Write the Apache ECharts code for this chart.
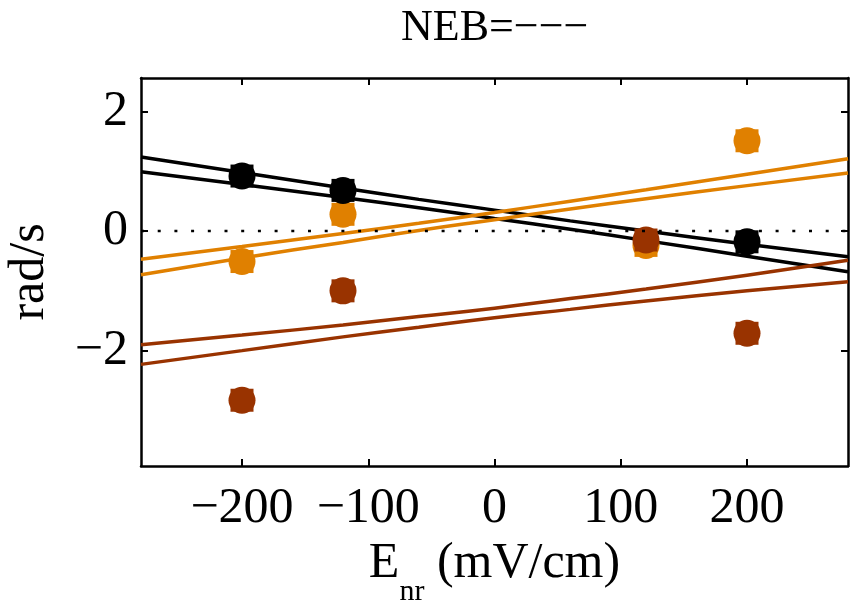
<!DOCTYPE html>
<html>
<head>
<meta charset="utf-8">
<script src="https://cdn.jsdelivr.net/npm/echarts@6/dist/echarts.min.js"></script>
<style>
  html, body { margin: 0; padding: 0; background: #fff; }
  #myChart { width: 854px; height: 606px; }
</style>
</head>
<body>
<div id="myChart"></div>
<script>
// measured points (E field in mV/cm, rate in rad/s)
const blackX = [-200, -120, 200];
const blackY = [0.92, 0.68, -0.18];
const orangeX = [-200, -120, 120, 200];
const orangeY = [-0.51, 0.28, -0.24, 1.51];
const brownX = [-200, -120, 120, 200];
const brownY = [-2.83, -1.0, -0.15, -1.71];

// fit bands
const bandX = [-280, -200, -120, -60, 0, 60, 120, 200, 280];
const blackUpper = [1.24, 0.98, 0.72, 0.53, 0.35, 0.17, 0.0, -0.22, -0.43];
const blackLower = [0.99, 0.78, 0.56, 0.39, 0.21, 0.03, -0.16, -0.42, -0.68];
const orangeUpper = [-0.47, -0.26, -0.04, 0.13, 0.31, 0.5, 0.69, 0.95, 1.21];
const orangeLower = [-0.73, -0.45, -0.19, 0.01, 0.19, 0.37, 0.54, 0.76, 0.97];
const brownUpper = [-1.9, -1.74, -1.57, -1.43, -1.29, -1.13, -0.97, -0.74, -0.49];
const brownLower = [-2.23, -2.0, -1.77, -1.61, -1.45, -1.31, -1.17, -1.0, -0.85];

const xTicks = [-200, -100, 0, 100, 200];
const yTicks = [-2, 0, 2];

const BLACK = "#000000";
const ORANGE = "#E08000";
const BROWN = "#993300";
const FONT = "Liberation Serif";

const pairs = (xs, ys) => xs.map((x, i) => [x, ys[i]]);
const fmt = v => (v < 0 ? "\u2212" + Math.abs(v) : String(v));

const bandLine = (xs, ys, color) => ({
  type: "line",
  data: pairs(xs, ys),
  smooth: true,
  showSymbol: false,
  silent: true,
  z: 2,
  lineStyle: { color: color, width: 3.5 }
});

const marker = (xs, ys, color, shape, size, z) => ({
  type: "scatter",
  data: pairs(xs, ys),
  symbol: shape,
  symbolSize: size,
  itemStyle: { color: color, opacity: 1 },
  z: z
});

const frameAxis = (extra) => Object.assign({
  type: "value",
  axisLine: { show: true, onZero: false, lineStyle: { color: "#000", width: 2.5 } },
  splitLine: { show: false }
}, extra);

let chartDom = document.getElementById("myChart");
let myChart = echarts.init(chartDom, null, { renderer: "canvas" });

let option = {
  animation: false,
  backgroundColor: "#fff",
  title: {
    text: "NEB=\u2212\u2212\u2212",
    left: 401,
    top: 6,
    padding: 0,
    textStyle: {
      fontFamily: FONT,
      fontSize: 44,
      fontWeight: "normal",
      color: "#000",
      lineHeight: 44
    }
  },
  grid: { left: 141, right: 6, top: 78, bottom: 140, containLabel: false, outerBoundsMode: "none" },
  xAxis: [
    frameAxis({
      min: -280,
      max: 280,
      position: "bottom",
      axisTick: { show: true, inside: true, length: 7, customValues: xTicks, lineStyle: { color: "#000", width: 2 } },
      axisLabel: {
        customValues: xTicks,
        formatter: fmt,
        fontFamily: FONT,
        fontSize: 50,
        lineHeight: 50,
        color: "#000",
        margin: 18
      },
      name: "{e|E}{sub|nr}{n| (mV/cm)}",
      nameLocation: "middle",
      nameGap: 55,
      nameTextStyle: {
        rich: {
          e: { fontFamily: FONT, fontSize: 50, lineHeight: 50, color: "#000", verticalAlign: "top" },
          sub: { fontFamily: FONT, fontSize: 30, lineHeight: 30, color: "#000", verticalAlign: "top", padding: [38, 0, 0, 0] },
          n: { fontFamily: FONT, fontSize: 50, lineHeight: 50, color: "#000", verticalAlign: "top" }
        }
      }
    }),
    frameAxis({
      min: -280,
      max: 280,
      position: "top",
      axisTick: { show: true, inside: true, length: 7, customValues: xTicks, lineStyle: { color: "#000", width: 2 } },
      axisLabel: { show: false }
    })
  ],
  yAxis: [
    frameAxis({
      min: -3.93,
      max: 2.56,
      position: "left",
      axisTick: { show: true, inside: true, length: 7, customValues: yTicks, lineStyle: { color: "#000", width: 2 } },
      axisLabel: {
        customValues: yTicks,
        formatter: fmt,
        fontFamily: FONT,
        fontSize: 50,
        color: "#000",
        margin: 13,
        padding: [6, 0, 0, 0]
      },
      name: "rad/s",
      nameLocation: "middle",
      nameGap: 86,
      nameTextStyle: { fontFamily: FONT, fontSize: 50, color: "#000" }
    }),
    frameAxis({
      min: -3.93,
      max: 2.56,
      position: "right",
      axisTick: { show: true, inside: true, length: 7, customValues: yTicks, lineStyle: { color: "#000", width: 2 } },
      axisLabel: { show: false }
    })
  ],
  series: [
    bandLine(bandX, blackUpper, BLACK),
    bandLine(bandX, blackLower, BLACK),
    bandLine(bandX, orangeUpper, ORANGE),
    bandLine(bandX, orangeLower, ORANGE),
    bandLine(bandX, brownUpper, BROWN),
    bandLine(bandX, brownLower, BROWN),
    marker(orangeX, orangeY, ORANGE, "circle", 27, 5),
    marker(orangeX, orangeY, ORANGE, "rect", 23, 5),
    marker(blackX, blackY, BLACK, "circle", 27, 6),
    marker(blackX, blackY, BLACK, "rect", 23, 6),
    marker(brownX, brownY, BROWN, "circle", 27, 7),
    marker(brownX, brownY, BROWN, "rect", 23, 7),
    {
      // dotted zero line
      type: "line",
      data: [[-280, 0], [280, 0]],
      showSymbol: false,
      silent: true,
      z: 8,
      lineStyle: { color: "#000", width: 2.5, type: [3, 13.7] }
    }
  ]
};

option && myChart.setOption(option);
</script>
</body>
</html>
